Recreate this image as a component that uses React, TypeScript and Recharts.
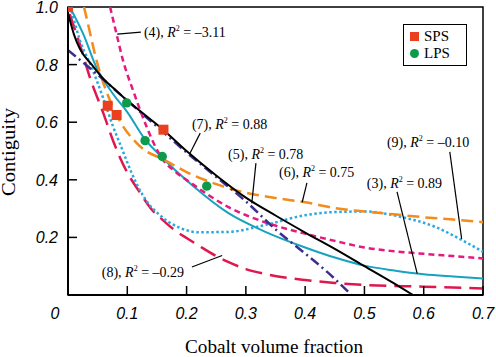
import React from 'react';
import {
  ComposedChart, Line, Scatter, XAxis, YAxis, ReferenceArea, ReferenceLine,
  ReferenceDot, Legend, Label,
} from 'recharts';

// ---- measured data ----
const spsPoints = [
  { x: 0.0, y: 1.0 },
  { x: 0.067, y: 0.657 },
  { x: 0.082, y: 0.625 },
  { x: 0.161, y: 0.574 },
];
const lpsPoints = [
  { x: 0.099, y: 0.667 },
  { x: 0.13, y: 0.536 },
  { x: 0.159, y: 0.481 },
  { x: 0.234, y: 0.378 },
];
// (7) black solid
const model7 = [
  { x: 0.0, y: 0.98 }, { x: 0.01, y: 0.905 }, { x: 0.02, y: 0.855 }, { x: 0.04, y: 0.8 },
  { x: 0.06, y: 0.75 }, { x: 0.08, y: 0.712 }, { x: 0.1, y: 0.675 }, { x: 0.13, y: 0.625 },
  { x: 0.16, y: 0.575 }, { x: 0.2, y: 0.5 }, { x: 0.25, y: 0.415 }, { x: 0.3, y: 0.338 },
  { x: 0.35, y: 0.276 }, { x: 0.4, y: 0.217 }, { x: 0.45, y: 0.16 }, { x: 0.5, y: 0.1 },
  { x: 0.55, y: 0.04 }, { x: 0.582, y: 0.0 },
];
// (5) navy dash-dot
const model5 = [
  { x: 0.0, y: 0.85 }, { x: 0.015, y: 0.825 }, { x: 0.05, y: 0.765 }, { x: 0.1, y: 0.675 },
  { x: 0.15, y: 0.585 }, { x: 0.2, y: 0.495 }, { x: 0.25, y: 0.41 }, { x: 0.3, y: 0.325 },
  { x: 0.35, y: 0.228 }, { x: 0.4, y: 0.144 }, { x: 0.44, y: 0.075 }, { x: 0.478, y: 0.0 },
];
// (6) orange dashed
const model6 = [
  { x: 0.027, y: 1.0 }, { x: 0.035, y: 0.93 }, { x: 0.045, y: 0.84 }, { x: 0.055, y: 0.765 },
  { x: 0.07, y: 0.68 }, { x: 0.09, y: 0.595 }, { x: 0.11, y: 0.54 }, { x: 0.13, y: 0.502 },
  { x: 0.16, y: 0.472 }, { x: 0.2, y: 0.427 }, { x: 0.25, y: 0.385 }, { x: 0.3, y: 0.355 },
  { x: 0.35, y: 0.337 }, { x: 0.4, y: 0.322 }, { x: 0.45, y: 0.302 }, { x: 0.5, y: 0.29 },
  { x: 0.55, y: 0.28 }, { x: 0.6, y: 0.27 }, { x: 0.65, y: 0.262 }, { x: 0.7, y: 0.253 },
];
// (3) cyan solid
const model3 = [
  { x: 0.003, y: 1.0 }, { x: 0.026, y: 0.905 }, { x: 0.048, y: 0.79 }, { x: 0.076, y: 0.698 },
  { x: 0.1, y: 0.635 }, { x: 0.13, y: 0.54 }, { x: 0.16, y: 0.475 }, { x: 0.21, y: 0.38 },
  { x: 0.27, y: 0.285 }, { x: 0.33, y: 0.222 }, { x: 0.4, y: 0.165 }, { x: 0.45, y: 0.13 },
  { x: 0.5, y: 0.102 }, { x: 0.55, y: 0.085 }, { x: 0.6, y: 0.072 }, { x: 0.65, y: 0.064 },
  { x: 0.7, y: 0.057 },
];
// (4) pink short dashed
const model4 = [
  { x: 0.071, y: 1.0 }, { x: 0.082, y: 0.905 }, { x: 0.093, y: 0.813 }, { x: 0.11, y: 0.709 },
  { x: 0.133, y: 0.582 }, { x: 0.145, y: 0.525 }, { x: 0.16, y: 0.47 }, { x: 0.18, y: 0.43 },
  { x: 0.21, y: 0.385 }, { x: 0.27, y: 0.306 }, { x: 0.33, y: 0.254 }, { x: 0.4, y: 0.213 },
  { x: 0.45, y: 0.188 }, { x: 0.5, y: 0.165 }, { x: 0.55, y: 0.152 }, { x: 0.6, y: 0.143 },
  { x: 0.65, y: 0.135 }, { x: 0.7, y: 0.127 },
];
// (9) cyan dotted
const model9 = [
  { x: 0.006, y: 0.986 }, { x: 0.02, y: 0.885 }, { x: 0.04, y: 0.79 }, { x: 0.06, y: 0.68 },
  { x: 0.076, y: 0.585 }, { x: 0.09, y: 0.513 }, { x: 0.1, y: 0.46 }, { x: 0.116, y: 0.385 },
  { x: 0.133, y: 0.325 }, { x: 0.155, y: 0.277 }, { x: 0.19, y: 0.232 }, { x: 0.22, y: 0.218 },
  { x: 0.27, y: 0.219 }, { x: 0.33, y: 0.242 }, { x: 0.4, y: 0.277 }, { x: 0.45, y: 0.288 },
  { x: 0.5, y: 0.29 }, { x: 0.56, y: 0.272 }, { x: 0.62, y: 0.236 }, { x: 0.665, y: 0.19 },
  { x: 0.7, y: 0.15 },
];
// (8) red long dashed
const model8 = [
  { x: 0.003, y: 0.975 }, { x: 0.02, y: 0.87 }, { x: 0.037, y: 0.755 }, { x: 0.06, y: 0.629 },
  { x: 0.078, y: 0.525 }, { x: 0.1, y: 0.425 }, { x: 0.12, y: 0.36 }, { x: 0.14, y: 0.3 },
  { x: 0.16, y: 0.26 }, { x: 0.18, y: 0.225 }, { x: 0.2, y: 0.198 }, { x: 0.22, y: 0.172 },
  { x: 0.25, y: 0.135 }, { x: 0.27, y: 0.115 }, { x: 0.3, y: 0.09 }, { x: 0.33, y: 0.074 },
  { x: 0.4, y: 0.052 }, { x: 0.45, y: 0.042 }, { x: 0.5, y: 0.035 }, { x: 0.6, y: 0.029 },
  { x: 0.7, y: 0.023 },
];

const xTicks = [0, 0.1, 0.2, 0.3, 0.4, 0.5, 0.6, 0.7];
const yTicks = [0, 0.2, 0.4, 0.6, 0.8, 1.0];

const annotations = [
  { id: '(4)', r2: '–3.11', tx: 0.128, ty: 0.913, seg: [[0.083, 0.906], [0.123, 0.913]] },
  { id: '(7)', r2: '0.88', tx: 0.209, ty: 0.594, seg: [[0.223, 0.562], [0.206, 0.493]] },
  { id: '(5)', r2: '0.78', tx: 0.27, ty: 0.49, seg: [[0.317, 0.458], [0.31, 0.318]] },
  { id: '(6)', r2: '0.75', tx: 0.356, ty: 0.427, seg: [[0.403, 0.389], [0.395, 0.322]] },
  { id: '(9)', r2: '–0.10', tx: 0.538, ty: 0.531, seg: [[0.644, 0.497], [0.664, 0.195]] },
  { id: '(3)', r2: '0.89', tx: 0.504, ty: 0.389, seg: [[0.555, 0.358], [0.589, 0.074]] },
  { id: '(8)', r2: '–0.29', tx: 0.057, ty: 0.08, seg: [[0.209, 0.097], [0.26, 0.137]] },
];

const SERIF = '"Liberation Serif", "Times New Roman", serif';
const SANS = '"Liberation Sans", Arial, sans-serif';

const XTick = (props: any) => {
  const { x, y, payload } = props;
  const v = payload.value;
  const label = v === 0 ? '0' : v.toFixed(1);
  return (
    <g>
      {v !== 0 && <line x1={x} x2={x} y1={y} y2={y - 9} stroke="#000" strokeWidth={1.5} />}
      <text x={v === 0 ? x - 13 : x} y={y + 23.5} textAnchor="middle" fontFamily={SANS}
        fontStyle="italic" fontSize={16} fill="#000">{label}</text>
    </g>
  );
};

const YTick = (props: any) => {
  const { x, y, payload } = props;
  const v = payload.value;
  if (v === 0) return <g />;
  return (
    <g>
      {v !== 1 && <line x1={x} x2={x + 9} y1={y} y2={y} stroke="#000" strokeWidth={1.5} />}
      <text x={x - 10} y={y + 6} textAnchor="end" fontFamily={SANS} fontStyle="italic"
        fontSize={16} fill="#000">{v.toFixed(1)}</text>
    </g>
  );
};

const SquareShape = (props: any) => {
  const { cx, cy } = props;
  return <rect x={cx - 5} y={cy - 5} width={10} height={10} fill="#ea4020" />;
};
const CircleShape = (props: any) => {
  const { cx, cy } = props;
  return <circle cx={cx} cy={cy} r={4.7} fill="#0d9a4a" />;
};

const makeAnnot = (id: string, r2: string) => (props: any) => {
  const { cx, cy } = props;
  return (
    <text x={cx} y={cy + 5} fontFamily={SERIF} fontSize={14} fill="#000">
      <tspan>{id}, </tspan>
      <tspan fontStyle="italic">R</tspan>
      <tspan fontSize={8} dy={-6}>2</tspan>
      <tspan dy={6}> = {r2}</tspan>
    </text>
  );
};

const LegendBox = () => (
  <div style={{
    border: '1.5px solid #000', background: '#fff', width: 64, height: 42,
    fontFamily: SERIF, fontSize: 15, color: '#000', boxSizing: 'border-box',
    padding: '3px 0 0 6px', lineHeight: '17px',
  }}>
    <div style={{ display: 'flex', alignItems: 'center' }}>
      <span style={{ display: 'inline-block', width: 9, height: 9, background: '#ea4020', marginRight: 5 }} />
      SPS
    </div>
    <div style={{ display: 'flex', alignItems: 'center' }}>
      <span style={{ display: 'inline-block', width: 9, height: 9, borderRadius: '50%', background: '#0d9a4a', marginRight: 5 }} />
      LPS
    </div>
  </div>
);

export default function App() {
  return (
    <div style={{ position: 'absolute', left: 0, top: 0, background: '#fff' }}>
      <ComposedChart width={496} height={357} margin={{ top: 7, right: 13, bottom: 0, left: 0 }}>
        <XAxis type="number" dataKey="x" domain={[0, 0.7]} ticks={xTicks} allowDataOverflow
          height={62} tickSize={0} tickMargin={0} tickLine={false}
          axisLine={{ stroke: '#000', strokeWidth: 2 }} tick={<XTick />} interval={0}>
          <Label content={() => (
            <text x={274} y={353} textAnchor="middle" fontFamily={SERIF} fontSize={19.5}
              textLength={178} lengthAdjust="spacingAndGlyphs" fill="#000">Cobalt volume fraction</text>
          )} />
        </XAxis>
        <YAxis type="number" domain={[0, 1]} ticks={yTicks} allowDataOverflow width={68}
          tickSize={0} tickMargin={0} tickLine={false} interval={0}
          axisLine={{ stroke: '#000', strokeWidth: 2 }} tick={<YTick />}>
          <Label content={() => (
            <text x={15} y={152} transform="rotate(-90, 15, 152)" textAnchor="middle"
              fontFamily={SERIF} fontSize={18} textLength={88} lengthAdjust="spacingAndGlyphs"
              fill="#000">Contiguity</text>
          )} />
        </YAxis>
        <ReferenceArea x1={0} x2={0.7} y1={0} y2={1} fill="none" stroke="#000" strokeWidth={1.5} />

        <Line data={model8} dataKey="y" type="monotone" stroke="#e0174f" strokeWidth={2.5}
          strokeDasharray="17 8" dot={false} isAnimationActive={false} />
        <Line data={model9} dataKey="y" type="monotone" stroke="#2aa9e0" strokeWidth={2.5}
          strokeDasharray="2.5 2.5" dot={false} isAnimationActive={false} />
        <Line data={model3} dataKey="y" type="monotone" stroke="#17a3c0" strokeWidth={2}
          dot={false} isAnimationActive={false} />
        <Line data={model4} dataKey="y" type="monotone" stroke="#e6197f" strokeWidth={2.5}
          strokeDasharray="6 4" dot={false} isAnimationActive={false} />
        <Line data={model6} dataKey="y" type="monotone" stroke="#f28c1c" strokeWidth={2.5}
          strokeDasharray="12 6" dot={false} isAnimationActive={false} />
        <Line data={model5} dataKey="y" type="monotone" stroke="#3b2e8f" strokeWidth={2.5}
          strokeDasharray="10 4 2 4" dot={false} isAnimationActive={false} />
        <Line data={model7} dataKey="y" type="monotone" stroke="#000" strokeWidth={2}
          dot={false} isAnimationActive={false} />

        {annotations.map((a) => (
          <ReferenceLine key={'l' + a.id}
            segment={[{ x: a.seg[0][0], y: a.seg[0][1] }, { x: a.seg[1][0], y: a.seg[1][1] }]}
            stroke="#000" strokeWidth={1.2} />
        ))}
        {annotations.map((a) => (
          <ReferenceDot key={'t' + a.id} x={a.tx} y={a.ty} r={0} shape={makeAnnot(a.id, a.r2)} />
        ))}

        <Scatter data={spsPoints} dataKey="y" shape={<SquareShape />} isAnimationActive={false} />
        <Scatter data={lpsPoints} dataKey="y" shape={<CircleShape />} isAnimationActive={false} />

        <Legend layout="horizontal" verticalAlign="middle" align="center"
          wrapperStyle={{ top: 24, left: 403, width: 64, height: 42 }}
          content={() => <LegendBox />} />
      </ComposedChart>
    </div>
  );
}
